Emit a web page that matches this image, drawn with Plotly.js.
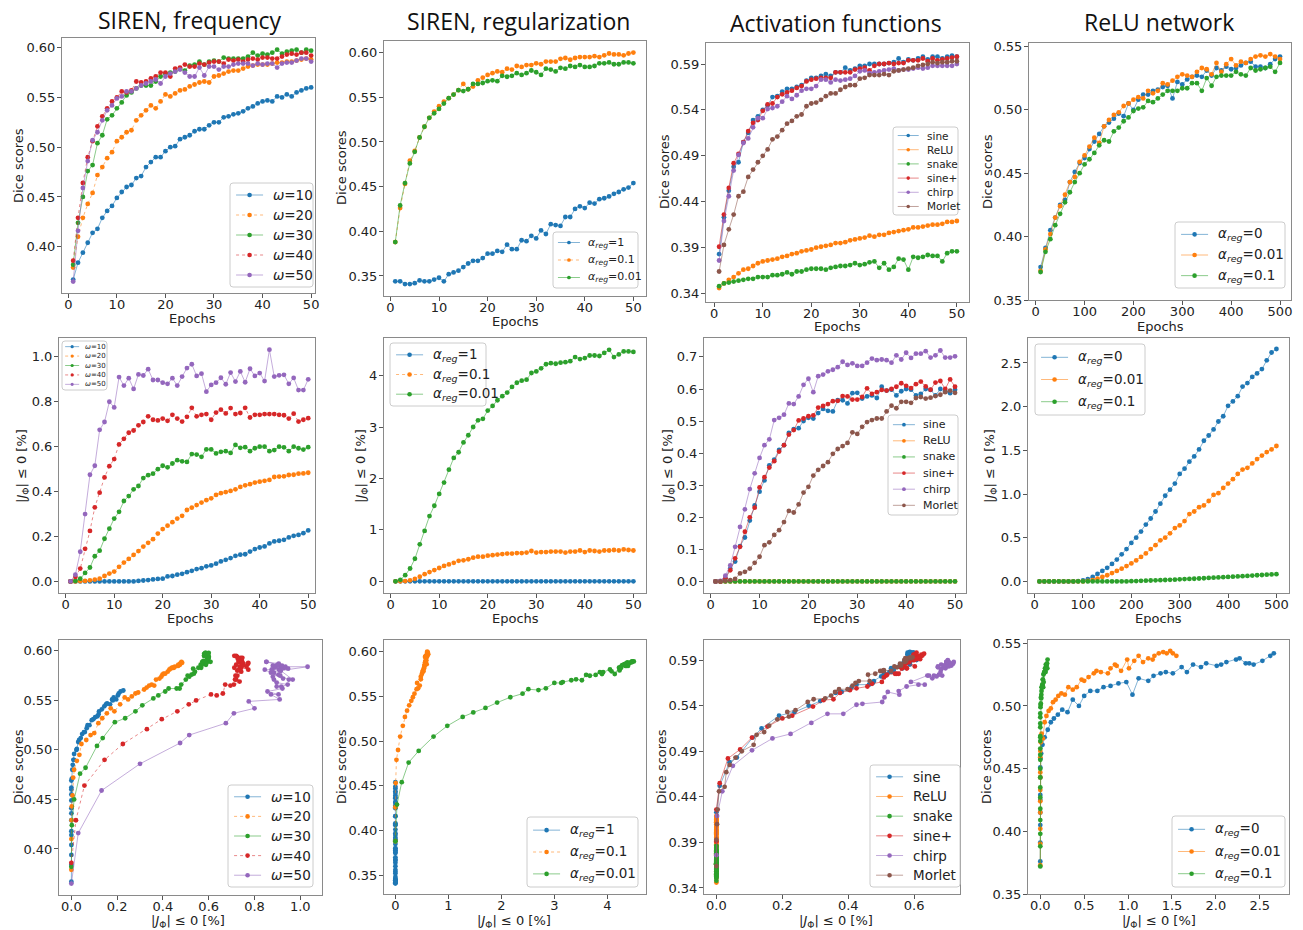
<!DOCTYPE html>
<html><head><meta charset="utf-8">
<script src="https://cdn.plot.ly/plotly-3.0.1.min.js"></script>
<style>html,body{margin:0;padding:0;background:#fff}#chart{width:1303px;height:930px}</style>
</head><body><div id="chart"></div>
<script>
// ---------------- DATA ----------------
const epochs = [1,2,3,4,5,6,7,8,9,10,11,12,13,14,15,16,17,18,19,20,21,22,23,24,25,26,27,28,29,30,31,32,33,34,35,36,37,38,39,40,41,42,43,44,45,46,47,48,49,50];
const epochsRelu = [10,20,30,40,50,60,70,80,90,100,110,120,130,140,150,160,170,180,190,200,210,220,230,240,250,260,270,280,290,300,310,320,330,340,350,360,370,380,390,400,410,420,430,440,450,460,470,480,490,500];

const panelTitles = ['SIREN, frequency', 'SIREN, regularization', 'Activation functions', 'ReLU network'];

// SIREN frequency
const freqNames = ['<i>ω</i>=10', '<i>ω</i>=20', '<i>ω</i>=30', '<i>ω</i>=40', '<i>ω</i>=50'];
const freqDiceW10 = [0.367,0.384,0.394,0.404,0.414,0.418,0.429,0.436,0.441,0.449,0.455,0.460,0.462,0.469,0.471,0.480,0.485,0.490,0.490,0.496,0.500,0.501,0.508,0.510,0.512,0.516,0.518,0.518,0.522,0.525,0.525,0.530,0.531,0.533,0.534,0.536,0.539,0.541,0.544,0.546,0.547,0.546,0.551,0.550,0.553,0.551,0.555,0.557,0.559,0.560];
const freqDiceW20 = [0.379,0.410,0.429,0.443,0.454,0.472,0.480,0.489,0.495,0.506,0.510,0.515,0.517,0.527,0.532,0.537,0.542,0.539,0.546,0.553,0.551,0.554,0.557,0.558,0.561,0.563,0.565,0.566,0.565,0.571,0.572,0.574,0.576,0.577,0.577,0.579,0.581,0.582,0.583,0.583,0.583,0.584,0.585,0.585,0.586,0.586,0.587,0.588,0.589,0.588];
const freqDiceW30 = [0.382,0.424,0.450,0.476,0.482,0.504,0.512,0.528,0.532,0.539,0.545,0.552,0.555,0.559,0.562,0.562,0.562,0.566,0.571,0.574,0.575,0.576,0.579,0.577,0.582,0.583,0.586,0.583,0.586,0.587,0.586,0.590,0.589,0.589,0.589,0.589,0.591,0.595,0.592,0.594,0.593,0.595,0.598,0.594,0.596,0.597,0.598,0.595,0.598,0.597];
const freqDiceW40 = [0.386,0.429,0.464,0.490,0.506,0.521,0.531,0.539,0.546,0.550,0.556,0.555,0.557,0.566,0.565,0.566,0.569,0.571,0.575,0.575,0.571,0.579,0.580,0.583,0.581,0.581,0.584,0.583,0.585,0.586,0.586,0.584,0.588,0.587,0.588,0.586,0.588,0.589,0.588,0.590,0.590,0.589,0.589,0.591,0.593,0.594,0.593,0.595,0.595,0.592];
const freqDiceW50 = [0.365,0.416,0.459,0.486,0.507,0.515,0.527,0.537,0.542,0.549,0.551,0.556,0.556,0.559,0.562,0.564,0.566,0.568,0.564,0.571,0.574,0.576,0.578,0.575,0.571,0.571,0.580,0.572,0.581,0.581,0.578,0.581,0.581,0.583,0.584,0.584,0.584,0.582,0.584,0.583,0.584,0.584,0.580,0.584,0.585,0.585,0.587,0.589,0.589,0.586];
const freqJacW10 = [0,0,0,0,0,0,0,0,0,0,0,0,0,0,0.002,0.004,0.006,0.009,0.011,0.012,0.022,0.024,0.030,0.034,0.041,0.047,0.055,0.059,0.067,0.071,0.079,0.089,0.096,0.104,0.114,0.119,0.121,0.133,0.144,0.151,0.156,0.169,0.178,0.181,0.185,0.196,0.203,0.207,0.215,0.227];
const freqJacW20 = [0,0,0.001,0.002,0.005,0.008,0.012,0.024,0.035,0.044,0.065,0.084,0.100,0.118,0.135,0.155,0.172,0.188,0.213,0.233,0.248,0.264,0.280,0.292,0.318,0.329,0.340,0.351,0.362,0.370,0.385,0.393,0.398,0.403,0.410,0.421,0.428,0.433,0.440,0.444,0.448,0.452,0.465,0.467,0.468,0.474,0.475,0.480,0.481,0.484];
const freqJacW30 = [0,0.002,0.012,0.038,0.062,0.112,0.137,0.190,0.235,0.280,0.310,0.358,0.380,0.410,0.425,0.460,0.473,0.480,0.500,0.515,0.508,0.525,0.540,0.535,0.532,0.567,0.565,0.555,0.588,0.588,0.570,0.577,0.580,0.572,0.608,0.595,0.598,0.580,0.593,0.600,0.600,0.580,0.585,0.600,0.597,0.580,0.600,0.593,0.587,0.598];
const freqJacW40 = [0,0.020,0.057,0.145,0.225,0.330,0.395,0.463,0.513,0.545,0.610,0.635,0.662,0.672,0.695,0.710,0.735,0.720,0.717,0.725,0.715,0.742,0.725,0.712,0.733,0.773,0.735,0.742,0.745,0.720,0.752,0.765,0.748,0.772,0.745,0.750,0.773,0.730,0.742,0.742,0.745,0.745,0.745,0.742,0.740,0.725,0.747,0.712,0.720,0.727];
const freqJacW50 = [0,0.030,0.132,0.300,0.475,0.515,0.675,0.710,0.800,0.775,0.910,0.872,0.905,0.857,0.922,0.917,0.945,0.897,0.897,0.885,0.880,0.905,0.872,0.912,0.950,0.967,0.915,0.925,0.845,0.875,0.885,0.907,0.878,0.930,0.890,0.935,0.887,0.947,0.915,0.928,0.892,1.032,0.912,0.918,0.920,0.880,0.906,0.852,0.852,0.900];

// SIREN regularization
const regNames = ['<i>α</i><sub><i>reg</i></sub>=1', '<i>α</i><sub><i>reg</i></sub>=0.1', '<i>α</i><sub><i>reg</i></sub>=0.01'];
const regDiceA1 = [0.344,0.344,0.341,0.341,0.342,0.345,0.344,0.344,0.346,0.348,0.344,0.352,0.354,0.356,0.360,0.364,0.367,0.367,0.370,0.375,0.375,0.378,0.377,0.385,0.380,0.380,0.390,0.389,0.395,0.392,0.401,0.397,0.408,0.407,0.406,0.416,0.416,0.425,0.428,0.426,0.432,0.431,0.436,0.437,0.439,0.442,0.444,0.447,0.449,0.454];
const regDiceA01 = [0.388,0.426,0.453,0.479,0.490,0.505,0.517,0.527,0.534,0.540,0.545,0.549,0.553,0.558,0.565,0.559,0.562,0.569,0.572,0.575,0.577,0.579,0.578,0.582,0.581,0.585,0.584,0.586,0.586,0.588,0.587,0.590,0.590,0.590,0.593,0.594,0.592,0.594,0.595,0.595,0.595,0.596,0.595,0.597,0.599,0.598,0.598,0.597,0.599,0.600];
const regDiceA001 = [0.388,0.429,0.454,0.476,0.489,0.505,0.517,0.527,0.532,0.537,0.543,0.549,0.553,0.558,0.557,0.559,0.565,0.565,0.566,0.568,0.569,0.568,0.574,0.573,0.574,0.577,0.575,0.577,0.580,0.578,0.575,0.582,0.581,0.579,0.583,0.582,0.585,0.584,0.586,0.584,0.584,0.585,0.588,0.588,0.589,0.587,0.587,0.589,0.589,0.588];
const regJacA1 = [0,0,0,0,0,0,0,0,0,0,0,0,0,0,0,0,0,0,0,0,0,0,0,0,0,0,0,0,0,0,0,0,0,0,0,0,0,0,0,0,0,0,0,0,0,0,0,0,0,0];
const regJacA01 = [0,0,0.005,0.02,0.05,0.09,0.14,0.18,0.22,0.26,0.30,0.33,0.36,0.40,0.41,0.43,0.46,0.48,0.48,0.50,0.51,0.52,0.53,0.54,0.54,0.55,0.55,0.56,0.59,0.56,0.57,0.57,0.58,0.58,0.58,0.56,0.58,0.58,0.60,0.57,0.60,0.59,0.58,0.60,0.60,0.61,0.60,0.62,0.61,0.60];
const regJacA001 = [0,0.03,0.12,0.25,0.44,0.72,0.98,1.27,1.47,1.70,1.92,2.17,2.40,2.51,2.70,2.84,3.00,3.13,3.16,3.32,3.41,3.52,3.60,3.67,3.78,3.86,3.90,3.92,4.05,4.08,4.14,4.22,4.24,4.23,4.25,4.26,4.28,4.36,4.32,4.34,4.39,4.39,4.38,4.44,4.50,4.36,4.41,4.47,4.47,4.46];

// Activation functions
const actNames = ['sine', 'ReLU', 'snake', 'sine+', 'chirp', 'Morlet'];
const actDiceSine = [0.383,0.423,0.452,0.478,0.483,0.505,0.515,0.529,0.533,0.540,0.545,0.554,0.555,0.560,0.563,0.563,0.565,0.567,0.572,0.575,0.575,0.577,0.579,0.577,0.581,0.581,0.586,0.583,0.585,0.588,0.588,0.590,0.590,0.590,0.590,0.591,0.592,0.596,0.592,0.595,0.594,0.596,0.598,0.595,0.598,0.598,0.596,0.598,0.599,0.598];
const actDiceRelu = [0.346,0.351,0.355,0.358,0.362,0.366,0.367,0.370,0.373,0.375,0.376,0.377,0.378,0.380,0.381,0.383,0.384,0.386,0.387,0.388,0.390,0.391,0.392,0.393,0.395,0.395,0.396,0.398,0.399,0.400,0.401,0.403,0.402,0.404,0.404,0.406,0.407,0.408,0.409,0.410,0.412,0.412,0.413,0.414,0.415,0.415,0.416,0.418,0.418,0.419];
const actDiceSnake = [0.348,0.351,0.352,0.353,0.354,0.355,0.356,0.356,0.358,0.358,0.358,0.360,0.360,0.361,0.363,0.361,0.364,0.364,0.366,0.367,0.367,0.367,0.366,0.368,0.369,0.370,0.370,0.371,0.373,0.371,0.372,0.374,0.375,0.368,0.373,0.366,0.369,0.378,0.377,0.366,0.380,0.379,0.380,0.382,0.381,0.381,0.375,0.384,0.386,0.386];
const actDiceSinePlus = [0.391,0.426,0.455,0.482,0.492,0.505,0.517,0.526,0.529,0.539,0.546,0.547,0.554,0.557,0.559,0.561,0.564,0.566,0.571,0.573,0.574,0.575,0.575,0.575,0.581,0.581,0.581,0.581,0.584,0.585,0.586,0.583,0.588,0.590,0.590,0.591,0.590,0.591,0.591,0.594,0.594,0.594,0.596,0.593,0.596,0.594,0.595,0.596,0.597,0.598];
const actDiceChirp = [0.376,0.419,0.446,0.474,0.491,0.504,0.509,0.521,0.531,0.531,0.541,0.542,0.544,0.549,0.555,0.552,0.556,0.561,0.563,0.563,0.566,0.573,0.573,0.570,0.573,0.572,0.573,0.574,0.577,0.582,0.583,0.580,0.581,0.582,0.583,0.584,0.585,0.583,0.584,0.584,0.585,0.586,0.585,0.586,0.588,0.588,0.588,0.588,0.588,0.590];
const actDiceMorlet = [0.364,0.393,0.410,0.426,0.446,0.451,0.467,0.475,0.483,0.490,0.497,0.508,0.511,0.518,0.525,0.528,0.533,0.535,0.544,0.547,0.548,0.551,0.555,0.558,0.558,0.562,0.565,0.567,0.567,0.574,0.575,0.578,0.578,0.578,0.579,0.578,0.582,0.583,0.584,0.585,0.586,0.588,0.589,0.590,0.592,0.591,0.592,0.592,0.593,0.593];
const actJacSine = [0,0,0.010,0.040,0.062,0.110,0.137,0.190,0.237,0.280,0.315,0.362,0.380,0.410,0.425,0.463,0.475,0.478,0.500,0.510,0.508,0.525,0.538,0.532,0.530,0.565,0.565,0.555,0.587,0.588,0.570,0.577,0.580,0.572,0.607,0.595,0.598,0.580,0.593,0.600,0.598,0.580,0.585,0.600,0.597,0.580,0.600,0.593,0.587,0.598];
const actJacRelu = [0,0,0,0,0,0,0,0,0,0,0,0,0,0,0,0,0,0,0,0,0,0,0,0,0,0,0,0,0,0,0,0,0,0,0,0,0,0,0,0,0,0,0,0,0,0,0,0,0,0];
const actJacSnake = [0,0,0,0,0,0,0,0,0,0,0,0,0,0,0,0,0,0,0,0,0,0,0,0,0,0,0,0,0,0,0,0,0,0,0,0,0,0,0,0,0,0,0,0,0,0,0,0,0,0];
const actJacSinePlus = [0,0,0.010,0.035,0.072,0.108,0.155,0.200,0.230,0.293,0.325,0.355,0.375,0.405,0.425,0.458,0.472,0.502,0.508,0.515,0.518,0.542,0.547,0.553,0.562,0.563,0.578,0.577,0.567,0.567,0.575,0.602,0.585,0.590,0.597,0.595,0.600,0.607,0.618,0.610,0.603,0.615,0.623,0.608,0.598,0.620,0.625,0.600,0.630,0.607];
const actJacChirp = [0,0.002,0.018,0.050,0.108,0.170,0.225,0.288,0.337,0.385,0.425,0.443,0.503,0.510,0.520,0.555,0.553,0.577,0.613,0.632,0.590,0.640,0.645,0.655,0.660,0.668,0.685,0.675,0.680,0.672,0.672,0.682,0.695,0.690,0.692,0.690,0.682,0.705,0.692,0.713,0.697,0.710,0.710,0.718,0.698,0.705,0.720,0.698,0.698,0.702];
const actJacMorlet = [0,0,0.002,0.004,0.008,0.025,0.030,0.040,0.058,0.077,0.113,0.122,0.145,0.160,0.185,0.220,0.215,0.240,0.277,0.295,0.330,0.348,0.360,0.372,0.398,0.413,0.422,0.432,0.465,0.460,0.482,0.497,0.503,0.508,0.508,0.530,0.548,0.540,0.560,0.560,0.557,0.572,0.575,0.570,0.573,0.578,0.582,0.590,0.595,0.588];

// ReLU network
const reluNames = ['<i>α</i><sub><i>reg</i></sub>=0', '<i>α</i><sub><i>reg</i></sub>=0.01', '<i>α</i><sub><i>reg</i></sub>=0.1'];
const reluDiceA0 = [0.376,0.391,0.405,0.415,0.425,0.429,0.443,0.451,0.458,0.462,0.469,0.475,0.481,0.487,0.490,0.493,0.497,0.495,0.505,0.500,0.508,0.512,0.512,0.515,0.516,0.518,0.519,0.509,0.522,0.520,0.524,0.526,0.527,0.526,0.531,0.527,0.533,0.531,0.534,0.532,0.533,0.535,0.537,0.538,0.534,0.534,0.533,0.536,0.540,0.542];
const reluDiceA001 = [0.373,0.390,0.402,0.415,0.424,0.433,0.443,0.447,0.459,0.464,0.471,0.478,0.474,0.487,0.492,0.496,0.498,0.503,0.505,0.508,0.510,0.509,0.515,0.513,0.515,0.521,0.520,0.523,0.526,0.528,0.527,0.526,0.530,0.533,0.532,0.528,0.537,0.530,0.536,0.540,0.535,0.538,0.537,0.540,0.542,0.543,0.542,0.544,0.542,0.540];
const reluDiceA01 = [0.372,0.388,0.398,0.409,0.418,0.427,0.435,0.443,0.450,0.457,0.461,0.466,0.472,0.476,0.475,0.483,0.486,0.491,0.494,0.499,0.501,0.502,0.507,0.506,0.509,0.512,0.515,0.515,0.515,0.517,0.517,0.521,0.521,0.515,0.525,0.519,0.526,0.527,0.527,0.527,0.530,0.528,0.527,0.533,0.531,0.532,0.533,0.534,0.530,0.537];
const reluJacA0 = [0,0,0,0,0,0,0,0,0.003,0.010,0.025,0.050,0.085,0.120,0.155,0.200,0.250,0.310,0.370,0.440,0.500,0.570,0.650,0.720,0.800,0.890,0.980,1.050,1.120,1.230,1.290,1.370,1.430,1.510,1.610,1.670,1.740,1.830,1.890,2.010,2.060,2.120,2.230,2.270,2.340,2.380,2.430,2.530,2.620,2.660];
const reluJacA001 = [0,0,0,0,0,0,0,0,0,0,0.005,0.015,0.030,0.050,0.070,0.095,0.120,0.145,0.175,0.205,0.240,0.280,0.320,0.370,0.415,0.470,0.500,0.550,0.610,0.640,0.690,0.770,0.800,0.850,0.870,0.920,0.990,1.010,1.070,1.120,1.170,1.230,1.280,1.300,1.350,1.400,1.440,1.480,1.510,1.550];
const reluJacA01 = [0,0,0,0,0,0,0,0,0,0,0,0,0,0,0,0,0,0,0,0.002,0.004,0.006,0.008,0.010,0.012,0.014,0.016,0.018,0.020,0.023,0.026,0.028,0.030,0.033,0.036,0.039,0.042,0.045,0.048,0.051,0.054,0.057,0.060,0.063,0.066,0.070,0.073,0.077,0.080,0.083];

// ---------------- BUILD ----------------
const W = 1303, H = 930;
const X = p => p / W;
const Y = p => 1 - p / H;
const COLORS = ['#1f77b4','#ff7f0e','#2ca02c','#d62728','#9467bd','#8c564b'];
function rgba(hex, a){const r=parseInt(hex.slice(1,3),16),g=parseInt(hex.slice(3,5),16),b=parseInt(hex.slice(5,7),16);return 'rgba('+r+','+g+','+b+','+a+')';}

const groups = {
  freq: {names: freqNames, dash: ['solid','dot','solid','dot','solid'], x: epochs,
         dice: [freqDiceW10,freqDiceW20,freqDiceW30,freqDiceW40,freqDiceW50],
         jac: [freqJacW10,freqJacW20,freqJacW30,freqJacW40,freqJacW50]},
  reg: {names: regNames, dash: ['solid','dot','solid'], x: epochs,
         dice: [regDiceA1,regDiceA01,regDiceA001], jac: [regJacA1,regJacA01,regJacA001]},
  act: {names: actNames, dash: ['solid','solid','solid','solid','solid','solid'], x: epochs,
         dice: [actDiceSine,actDiceRelu,actDiceSnake,actDiceSinePlus,actDiceChirp,actDiceMorlet],
         jac: [actJacSine,actJacRelu,actJacSnake,actJacSinePlus,actJacChirp,actJacMorlet]},
  relu: {names: reluNames, dash: ['solid','solid','solid'], x: epochsRelu,
         dice: [reluDiceA0,reluDiceA001,reluDiceA01], jac: [reluJacA0,reluJacA001,reluJacA01]}
};

const JLABEL = '|<i>J</i><sub>Φ</sub>| ≤ 0 [%]';
const panels = [
  {g:'freq', kind:'dice', box:[62,38,315,293], xr:[-1.3,50.8], yr:[0.3535,0.6097], xt:[0,10,''], yt:[0.40,0.05,'.2f'], xl:'Epochs', yl:'Dice scores', xlp:[192,318], ylp:[19,166], leg:[230,183,313,287,13.5]},
  {g:'reg', kind:'dice', box:[384,41,646,296], xr:[-1.32,52.6], yr:[0.3276,0.613], xt:[0,10,''], yt:[0.35,0.05,'.2f'], xl:'Epochs', yl:'Dice scores', xlp:[515,321], ylp:[341,168], leg:[553,232,638,288,11]},
  {g:'act', kind:'dice', box:[706,43,969,302], xr:[-1.7,52.5], yr:[0.3308,0.6129], xt:[0,10,''], yt:[0.34,0.05,'.2f'], xl:'Epochs', yl:'Dice scores', xlp:[838,327], ylp:[664,172], leg:[893,127,958,215,10.5]},
  {g:'relu', kind:'dice', box:[1029,43,1291,300], xr:[-13.7,522.5], yr:[0.35,0.5527], xt:[0,100,''], yt:[0.35,0.05,'.2f'], xl:'Epochs', yl:'Dice scores', xlp:[1160,326], ylp:[987,172], leg:[1175,222,1285,288,13.5]},
  {g:'freq', kind:'jac', box:[59,338,315,593], xr:[-1.38,51.4], yr:[-0.0516,1.084], xt:[0,10,''], yt:[0,0.2,'.1f'], xl:'Epochs', yl:JLABEL, xlp:[190,618], ylp:[22,466], leg:[62,341,107,390,7]},
  {g:'reg', kind:'jac', box:[384,338,646,593], xr:[-1.37,52.6], yr:[-0.226,4.73], xt:[0,10,''], yt:[0,1,'d'], xl:'Epochs', yl:JLABEL, xlp:[515,618], ylp:[361,466], leg:[390,343,486,406,13.5]},
  {g:'act', kind:'jac', box:[704,338,966,593], xr:[-1.37,52.25], yr:[-0.036,0.759], xt:[0,10,''], yt:[0,0.1,'.1f'], xl:'Epochs', yl:JLABEL, xlp:[836,618], ylp:[668,466], leg:[888,415,958,515,11]},
  {g:'relu', kind:'jac', box:[1028,338,1289,593], xr:[-13.7,526], yr:[-0.133,2.786], xt:[0,100,''], yt:[0,0.5,'.1f'], xl:'Epochs', yl:JLABEL, xlp:[1158,618], ylp:[990,466], leg:[1035,344,1145,415,13.5]},
  {g:'freq', kind:'par', box:[59,640,322,895], xr:[-0.054,1.095], yr:[0.3535,0.611], xt:[0,0.2,'.1f'], yt:[0.40,0.05,'.2f'], xl:JLABEL, yl:'Dice scores', xlp:[188,921], ylp:[18,767], leg:[228,785,313,887,13.5]},
  {g:'reg', kind:'par', box:[384,640,646,894], xr:[-0.215,4.73], yr:[0.329,0.613], xt:[0,1,'d'], yt:[0.35,0.05,'.2f'], xl:JLABEL, yl:'Dice scores', xlp:[514,921], ylp:[341,767], leg:[527,817,638,887,13.5]},
  {g:'act', kind:'par', box:[704,640,960,894], xr:[-0.0376,0.739], yr:[0.3334,0.612], xt:[0,0.2,'.1f'], yt:[0.34,0.05,'.2f'], xl:JLABEL, yl:'Dice scores', xlp:[836,921], ylp:[661,767], leg:[870,765,960,887,13.5]},
  {g:'relu', kind:'par', box:[1028,640,1289,894], xr:[-0.14,2.833], yr:[0.35,0.5526], xt:[0,0.5,'.1f'], yt:[0.35,0.05,'.2f'], xl:JLABEL, yl:'Dice scores', xlp:[1159,921], ylp:[986,767], leg:[1172,816,1285,887,13.5]}
];

const titlePos = [[190,20],[518,21],[836,23],[1159,22]];
const FONT = 'DejaVu Sans, sans-serif';
const traces = [];
const shapes = [];
const annotations = [];
const layout = {
  width: W, height: H, margin:{l:0,r:0,t:0,b:0}, showlegend:false,
  paper_bgcolor:'#ffffff', plot_bgcolor:'#ffffff', font:{family:FONT, color:'#222'}
};

function roundRect(x0,y0,x1,y1,r){
  const p=(x,y)=>X(x)+','+Y(y);
  return 'M'+p(x0+r,y0)+' L'+p(x1-r,y0)+' Q'+p(x1,y0)+' '+p(x1,y0+r)+' L'+p(x1,y1-r)+' Q'+p(x1,y1)+' '+p(x1-r,y1)+
    ' L'+p(x0+r,y1)+' Q'+p(x0,y1)+' '+p(x0,y1-r)+' L'+p(x0,y0+r)+' Q'+p(x0,y0)+' '+p(x0+r,y0)+' Z';
}

panels.forEach((P, k) => {
  const n = k + 1;
  const sfx = n === 1 ? '' : String(n);
  const G = groups[P.g];
  const [bx0, by0, bx1, by1] = P.box;
  const tickFont = {family:FONT, size:13, color:'#222'};
  const labFont = {family:FONT, size:13, color:'#222'};
  layout['xaxis'+sfx] = {
    domain:[X(bx0), X(bx1)], range:P.xr, anchor:'y'+sfx,
    showline:true, mirror:true, linecolor:'#8a8a8a', linewidth:1,
    ticks:'outside', ticklen:4, tickwidth:1, tickcolor:'#555', ticklabelstandoff:-5,
    showgrid:false, zeroline:false, tickmode:'linear', tick0:P.xt[0], dtick:P.xt[1], tickformat:P.xt[2],
    tickfont:tickFont
  };
  layout['yaxis'+sfx] = {
    domain:[Y(by1), Y(by0)], range:P.yr, anchor:'x'+sfx,
    showline:true, mirror:true, linecolor:'#8a8a8a', linewidth:1,
    ticks:'outside', ticklen:4, tickwidth:1, tickcolor:'#555', ticklabelstandoff:-1,
    showgrid:false, zeroline:false, tickmode:'linear', tick0:P.yt[0], dtick:P.yt[1], tickformat:P.yt[2],
    tickfont:tickFont
  };
  // axis titles
  annotations.push({xref:'paper', yref:'paper', x:X(P.xlp[0]), y:Y(P.xlp[1]), xanchor:'center', yanchor:'middle',
    text:P.xl, showarrow:false, borderpad:0, font:labFont});
  annotations.push({xref:'paper', yref:'paper', x:X(P.ylp[0]), y:Y(P.ylp[1]), xanchor:'center', yanchor:'middle',
    text:P.yl, textangle:-90, showarrow:false, borderpad:0, font:labFont});

  G.names.forEach((nm, i) => {
    const c = COLORS[i];
    let xs, ys;
    if (P.kind === 'dice') { xs = G.x; ys = G.dice[i]; }
    else if (P.kind === 'jac') { xs = G.x; ys = G.jac[i]; }
    else { xs = G.jac[i]; ys = G.dice[i]; }
    traces.push({
      type:'scatter', mode:'lines+markers', x:xs, y:ys, name:nm,
      xaxis:'x'+sfx, yaxis:'y'+sfx, showlegend:false, hoverinfo:'skip',
      line:{color:rgba(c,0.55), width:1, dash:G.dash[i]},
      marker:{color:c, size:4.8}
    });
  });
  // legend (matplotlib-like, drawn manually)
  const [lx0, ly0, lx1, ly1, fs] = P.leg;
  const nItems = G.names.length;
  const hh = ly1 - ly0;
  const pitch = hh / (nItems + 0.2);
  const first = ly0 + (hh - (nItems - 1) * pitch) / 2;
  shapes.push({type:'path', xref:'paper', yref:'paper', path:roundRect(lx0,ly0,lx1,ly1,3),
    fillcolor:'rgba(255,255,255,0.9)', line:{color:'#cccccc', width:1}});
  G.names.forEach((nm, i) => {
    const c = COLORS[i];
    const cy = first + i * pitch;
    const s0 = lx0 + 0.45 * fs, s1 = s0 + 2 * fs, mx = (s0 + s1) / 2;
    const mr = Math.max(1.6, Math.min(2.3, fs * 0.17));
    shapes.push({type:'line', xref:'paper', yref:'paper', x0:X(s0), x1:X(s1), y0:Y(cy), y1:Y(cy),
      line:{color:rgba(c,0.55), width:1, dash:G.dash[i]}});
    shapes.push({type:'circle', xref:'paper', yref:'paper', x0:X(mx-mr), x1:X(mx+mr), y0:Y(cy+mr), y1:Y(cy-mr),
      fillcolor:c, line:{width:0}});
    annotations.push({xref:'paper', yref:'paper', x:X(lx0 + 3.1 * fs), y:Y(cy), xanchor:'left', yanchor:'middle',
      text:nm, showarrow:false, borderpad:0, font:{family:FONT, size:fs, color:'#222'}});
  });
});

panelTitles.forEach((t, i) => {
  annotations.push({xref:'paper', yref:'paper', x:X(titlePos[i][0]), y:Y(titlePos[i][1]), xanchor:'center', yanchor:'middle',
    text:t, showarrow:false, font:{family:'Open Sans, sans-serif', size:23, color:'#111'}});
});

layout.shapes = shapes;
layout.annotations = annotations;
Plotly.newPlot('chart', traces, layout, {staticPlot:true, displayModeBar:false});
</script></body></html>
